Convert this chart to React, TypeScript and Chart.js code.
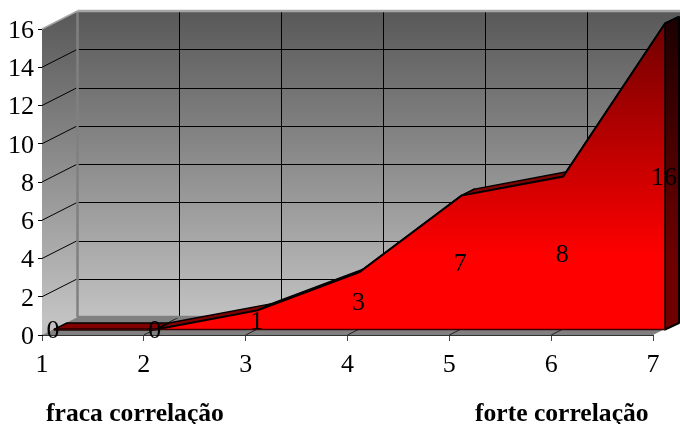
import React, { useEffect, useRef } from "react";
import { Chart, registerables } from "chart.js";

Chart.register(...registerables);

const categories = ["1", "2", "3", "4", "5", "6", "7"];
const values = [0, 0, 1, 3, 7, 8, 16];
const notes = ["fraca correlação", "forte correlação"];

const WALL = { dx: 35.5, dy: -18 };
const FRONT = { dx: 12, dy: -5.5 };
const BACK = { dx: 25, dy: -12 };
const SERIF = '"Liberation Serif", "Times New Roman", serif';

function poly(ctx: CanvasRenderingContext2D, pts: number[][]) {
  ctx.beginPath();
  pts.forEach((p, i) => (i ? ctx.lineTo(p[0], p[1]) : ctx.moveTo(p[0], p[1])));
  ctx.closePath();
}
function line(ctx: CanvasRenderingContext2D, a: number[], b: number[]) {
  ctx.beginPath();
  ctx.moveTo(a[0], a[1]);
  ctx.lineTo(b[0], b[1]);
  ctx.stroke();
}
function crisp(v: number) {
  return Math.round(v) + 0.5;
}

const scene = {
  id: "scene",
  beforeDatasetsDraw(chart: any) {
    const { ctx, scales } = chart;
    const xs = scales.x;
    const ys = scales.y;
    const l = xs.left;
    const r = xs.right;
    const t = ys.top;
    const b = ys.bottom;
    const { dx, dy } = WALL;
    ctx.save();
    const wall = ctx.createLinearGradient(0, t + dy, 0, b + dy);
    wall.addColorStop(0, "#585858");
    wall.addColorStop(1, "#c2c2c2");
    ctx.fillStyle = wall;
    poly(ctx, [[l + dx, t + dy], [r + dx, t + dy], [r + dx, b + dy], [l + dx, b + dy]]);
    ctx.fill();
    poly(ctx, [[l, t], [l + dx, t + dy], [l + dx, b + dy], [l, b]]);
    ctx.fill();
    ctx.fillStyle = "#808080";
    poly(ctx, [[l, b], [r, b], [r + dx, b + dy], [l + dx, b + dy]]);
    ctx.fill();

    ctx.strokeStyle = "#000";
    ctx.lineWidth = 1;
    for (let v = 2; v <= 14; v += 2) {
      const y = ys.getPixelForValue(v);
      line(ctx, [l, y], [l + dx, y + dy]);
      line(ctx, [l + dx, crisp(y + dy)], [r + dx, crisp(y + dy)]);
    }
    categories.forEach((_, i) => {
      const x = xs.getPixelForValue(i);
      if (i > 0 && i < categories.length - 1) {
        line(ctx, [crisp(x + dx), t + dy], [crisp(x + dx), b + dy]);
        ctx.strokeStyle = "#222";
        line(ctx, [x, b], [x + dx, b + dy]);
        ctx.strokeStyle = "#000";
      }
    });

    ctx.strokeStyle = "#808080";
    ctx.lineWidth = 2.5;
    line(ctx, [l + dx, t + dy], [l + dx, b + dy]);
    line(ctx, [l + dx, b + dy], [r + dx, b + dy]);
    ctx.strokeStyle = "#a6a6a6";
    line(ctx, [l + dx, t + dy], [r + dx, t + dy]);
    ctx.lineWidth = 1.5;
    line(ctx, [l, t], [l + dx, t + dy]);

    // upper surface and side of the area, from the same values as the front
    const pts = values.map((v, i) => [xs.getPixelForValue(i), ys.getPixelForValue(v)]);
    ctx.lineWidth = 1.5;
    ctx.strokeStyle = "#000";
    ctx.lineJoin = "round";
    for (let i = 0; i < pts.length - 1; i++) {
      const a = pts[i];
      const c = pts[i + 1];
      ctx.fillStyle = "#800000";
      poly(ctx, [
        [a[0] + FRONT.dx, a[1] + FRONT.dy],
        [c[0] + FRONT.dx, c[1] + FRONT.dy],
        [c[0] + BACK.dx, c[1] + BACK.dy],
        [a[0] + BACK.dx, a[1] + BACK.dy],
      ]);
      ctx.fill();
      ctx.stroke();
    }
    const last = pts[pts.length - 1];
    const side = ctx.createLinearGradient(0, last[1] + BACK.dy, 0, b);
    side.addColorStop(0, "#1c0000");
    side.addColorStop(0.78, "#700000");
    side.addColorStop(1, "#700000");
    ctx.fillStyle = side;
    ctx.lineWidth = 2;
    poly(ctx, [
      [last[0] + FRONT.dx, last[1] + FRONT.dy],
      [last[0] + BACK.dx + 1, last[1] + BACK.dy],
      [last[0] + BACK.dx + 1, b + BACK.dy],
      [last[0] + FRONT.dx, b + FRONT.dy],
    ]);
    ctx.fill();
    ctx.stroke();
    ctx.restore();
    // the area itself is drawn by the library, shifted onto its front plane
    ctx.save();
    ctx.translate(FRONT.dx, FRONT.dy);
  },
  afterDatasetsDraw(chart: any) {
    const { ctx, scales } = chart;
    const xs = scales.x;
    const b = scales.y.bottom;
    const lastX = xs.getPixelForValue(categories.length - 1);
    const lastY = scales.y.getPixelForValue(values[values.length - 1]);
    ctx.strokeStyle = "#000";
    ctx.lineWidth = 1.5;
    line(ctx, [lastX, lastY], [lastX, b]);
    ctx.strokeStyle = "#400000";
    line(ctx, [xs.getPixelForValue(0), b], [lastX, b]);
    ctx.restore();

    ctx.save();
    ctx.fillStyle = "#000";
    ctx.textAlign = "center";
    ctx.textBaseline = "middle";
    ctx.font = `26px ${SERIF}`;
    values.forEach((v, i) => {
      const x = scales.x.getPixelForValue(i) + FRONT.dx - 1;
      const y = scales.y.getPixelForValue(v / 2) + FRONT.dy + 2;
      ctx.fillText(String(v), x, y);
    });
    ctx.font = `bold 25.6px ${SERIF}`;
    ctx.textAlign = "left";
    ctx.textBaseline = "alphabetic";
    ctx.fillText(notes[0], 46, 421);
    ctx.fillText(notes[1], 475, 421);
    ctx.restore();
  },
};

export default function App() {
  const ref = useRef<HTMLCanvasElement>(null);
  useEffect(() => {
    const canvas = ref.current!;
    const g = canvas.getContext("2d")!;
    const fillGrad = g.createLinearGradient(0, 29, 0, 335);
    fillGrad.addColorStop(0, "#700000");
    fillGrad.addColorStop(0.76, "#ff0000");
    fillGrad.addColorStop(1, "#ff0000");
    const chart = new Chart(canvas, {
      type: "line",
      data: {
        labels: categories,
        datasets: [
          {
            data: values,
            fill: "origin",
            backgroundColor: fillGrad,
            borderColor: "#000",
            borderWidth: 2,
            pointRadius: 0,
            tension: 0,
            clip: false,
          } as any,
        ],
      },
      options: {
        responsive: false,
        animation: false,
        layout: { padding: { top: 29, right: 27, left: 0, bottom: 0 } },
        plugins: { legend: { display: false }, tooltip: { enabled: false }, title: { display: false } },
        scales: {
          x: {
            offset: false,
            afterFit: (s: any) => {
              s.height = 89;
            },
            grid: { drawOnChartArea: false, tickLength: 6, tickColor: "#444", offset: false },
            border: { color: "#333", width: 1 },
            ticks: { color: "#000", font: { family: SERIF, size: 26 }, padding: 9, maxRotation: 0, autoSkip: false },
          },
          y: {
            min: 0,
            max: 16,
            afterFit: (s: any) => {
              s.width = 42;
              // the tick labels sit 2px below their ticks in this chart
              const base = Object.getPrototypeOf(s).drawLabels;
              s.drawLabels = function (area: any) {
                s.ctx.save();
                s.ctx.translate(0, 2);
                base.call(s, area);
                s.ctx.restore();
              };
            },
            grid: { drawOnChartArea: false, tickLength: 4, tickColor: "#000" },
            border: { color: "#000", width: 1 },
            ticks: { stepSize: 2, color: "#000", font: { family: SERIF, size: 26 }, padding: 4 },
          },
        },
      },
      plugins: [scene],
    });
    return () => chart.destroy();
  }, []);
  return (
    <div style={{ position: "fixed", left: 0, top: 0, width: 680, height: 424, background: "#fff" }}>
      <canvas ref={ref} width={680} height={424} style={{ display: "block" }} />
    </div>
  );
}
